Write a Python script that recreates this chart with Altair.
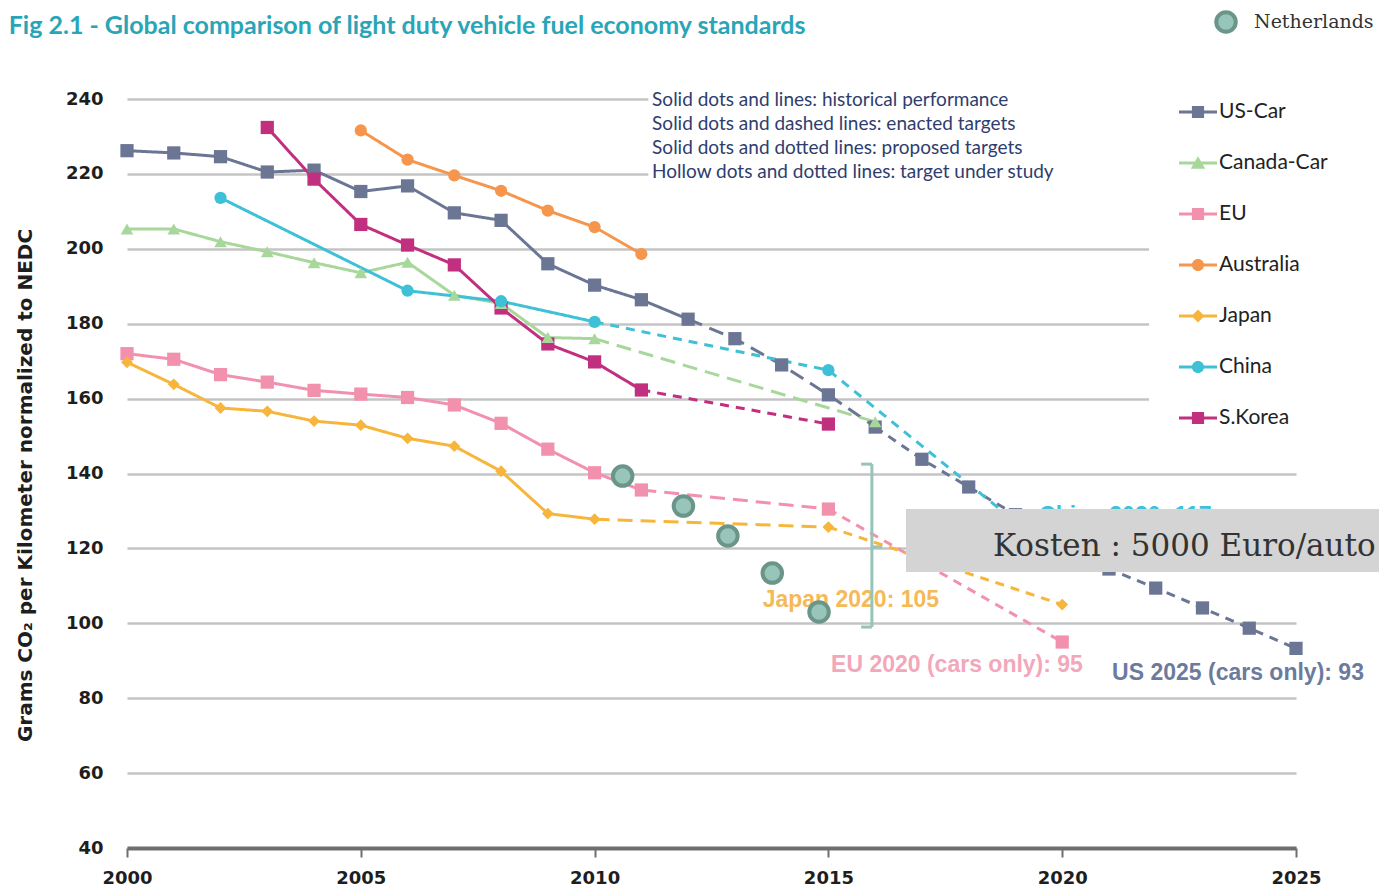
import altair as alt
import pandas as pd

# ---------------- data ----------------
SERIES = ["US-Car", "Canada-Car", "EU", "Australia", "Japan", "China", "S.Korea"]
COLORS = ["#6b7594", "#a8d79b", "#f291ae", "#f5964c", "#f7b53c", "#3ec0d6", "#c1307f"]

us_hist_years = list(range(2000, 2013))
us_hist_vals = [226.2, 225.6, 224.6, 220.5, 221.0, 215.3, 216.8, 209.6, 207.6, 196.0, 190.3, 186.4, 181.2]
us_enacted_years = [2012, 2013, 2014, 2015, 2016]
us_enacted_vals = [181.2, 176.0, 169.0, 161.0, 152.4]
us_proposed_years = list(range(2016, 2026))
us_proposed_vals = [152.4, 143.8, 136.4, 129.0, 121.5, 114.5, 109.4, 104.1, 98.7, 93.3]

canada_hist_years = list(range(2000, 2011))
canada_hist_vals = [205.3, 205.3, 201.9, 199.2, 196.3, 193.6, 196.4, 187.6, 185.4, 176.3, 176.0]
canada_enacted_years = [2010, 2016]
canada_enacted_vals = [176.0, 153.8]

eu_hist_years = list(range(2000, 2012))
eu_hist_vals = [172.0, 170.5, 166.4, 164.4, 162.2, 161.2, 160.3, 158.3, 153.4, 146.5, 140.2, 135.6]
eu_enacted_years = [2011, 2015]
eu_enacted_vals = [135.6, 130.5]
eu_proposed_years = [2015, 2020]
eu_proposed_vals = [130.5, 95.0]

australia_hist_years = list(range(2005, 2012))
australia_hist_vals = [231.6, 223.8, 219.6, 215.5, 210.2, 205.8, 198.6]

japan_hist_years = list(range(2000, 2011))
japan_hist_vals = [169.7, 163.8, 157.5, 156.6, 154.0, 152.9, 149.4, 147.3, 140.6, 129.3, 127.8]
japan_enacted_years = [2010, 2015]
japan_enacted_vals = [127.8, 125.7]
japan_proposed_years = [2015, 2020]
japan_proposed_vals = [125.7, 105.0]

china_hist_years = [2002, 2006, 2008, 2010]
china_hist_vals = [213.6, 188.8, 186.0, 180.5]
china_proposed_years = [2010, 2015, 2020]
china_proposed_vals = [180.5, 167.6, 117.0]

korea_hist_years = list(range(2003, 2012))
korea_hist_vals = [232.4, 218.6, 206.5, 201.0, 195.7, 184.2, 174.6, 169.8, 162.3]
korea_proposed_years = [2011, 2015]
korea_proposed_vals = [162.3, 153.2]

nl_years = [2010.6, 2011.9, 2012.85, 2013.8, 2014.8]
nl_vals = [139.3, 131.3, 123.3, 113.4, 103.0]

x_ticks = [2000, 2005, 2010, 2015, 2020, 2025]
y_ticks = [40, 60, 80, 100, 120, 140, 160, 180, 200, 220, 240]

segments = [
    ("US-Car", "hist", us_hist_years, us_hist_vals),
    ("US-Car", "enacted", us_enacted_years, us_enacted_vals),
    ("US-Car", "proposed", us_proposed_years, us_proposed_vals),
    ("Canada-Car", "hist", canada_hist_years, canada_hist_vals),
    ("Canada-Car", "enacted", canada_enacted_years, canada_enacted_vals),
    ("EU", "hist", eu_hist_years, eu_hist_vals),
    ("EU", "enacted", eu_enacted_years, eu_enacted_vals),
    ("EU", "proposed", eu_proposed_years, eu_proposed_vals),
    ("Australia", "hist", australia_hist_years, australia_hist_vals),
    ("Japan", "hist", japan_hist_years, japan_hist_vals),
    ("Japan", "enacted", japan_enacted_years, japan_enacted_vals),
    ("Japan", "proposed", japan_proposed_years, japan_proposed_vals),
    ("China", "hist", china_hist_years, china_hist_vals),
    ("China", "proposed", china_proposed_years, china_proposed_vals),
    ("S.Korea", "hist", korea_hist_years, korea_hist_vals),
    ("S.Korea", "proposed", korea_proposed_years, korea_proposed_vals),
]

rows = []
for s, kind, ys, vs in segments:
    for yr, v in zip(ys, vs):
        rows.append({"series": s, "seg": kind, "year": yr, "value": v})
line_df = pd.DataFrame(rows)
point_df = line_df.drop_duplicates(subset=["series", "year"]).reset_index(drop=True)
nl_df = pd.DataFrame({"year": nl_years, "value": nl_vals, "label": "Netherlands"})

# ---------------- scales / axes ----------------
xs = alt.Scale(domain=[2000, 2025], nice=False, zero=False)
ys_ = alt.Scale(domain=[40, 240], nice=False, zero=False)
color_scale = alt.Scale(domain=SERIES, range=COLORS)

x_axis = alt.Axis(values=x_ticks, format="d", grid=False, title=None, labelFlush=False,
                  domainColor="#6e6e6e", domainWidth=4, tickColor="#6e6e6e",
                  tickWidth=2, tickSize=9, labelFont="DejaVu Sans", labelFontSize=18,
                  labelFontWeight="bold", labelColor="#1e1e1e", labelPadding=12)
y_axis = alt.Axis(values=y_ticks, grid=True, gridColor="#c4c4c4", gridWidth=2.5,
                  domain=False, ticks=False, labelFont="DejaVu Sans", labelFontSize=18,
                  labelFontWeight="bold", labelColor="#1e1e1e", labelPadding=24,
                  title="Grams CO\u2082 per Kilometer normalized to NEDC",
                  titleFont="DejaVu Sans", titleFontSize=20, titleFontWeight="bold",
                  titleColor="#1e1e1e", titleAngle=270, titleX=-102, titleY=386,
                  titleAlign="center", titleBaseline="middle")


def X(f="year"):
    return alt.X(f"{f}:Q", scale=xs, axis=x_axis)


def Y(f="value"):
    return alt.Y(f"{f}:Q", scale=ys_, axis=y_axis)


# legend symbol paths: line + marker
bar = "M-1,-0.08L1,-0.08L1,0.08L-1,0.08Z"
sym_paths = {
    "square": bar + "M-0.32,-0.32L0.32,-0.32L0.32,0.32L-0.32,0.32Z",
    "triangle-up": bar + "M0,-0.36L0.38,0.3L-0.38,0.3Z",
    "circle": bar + "M-0.32,0A0.32,0.32,0,1,1,0.32,0A0.32,0.32,0,1,1,-0.32,0Z",
    "diamond": bar + "M0,-0.34L0.34,0L0,0.34L-0.34,0Z",
}
MARKERS = ["square", "triangle-up", "square", "circle", "diamond", "circle", "square"]
legend_shapes = [sym_paths[m] for m in MARKERS]

series_legend = alt.Legend(title=None, orient="none", legendX=1022, legendY=-36,
                           padding=30, fillColor="white", symbolSize=1444,
                           symbolStrokeWidth=0, symbolOpacity=1,
                           labelFont="Lato", labelFontSize=21, labelColor="#222222",
                           labelOffset=2, rowPadding=22)

legend_layer = alt.Chart(point_df).transform_filter("datum.year < 0").mark_point(
    filled=True, opacity=1).encode(
    x=X(), y=Y(),
    color=alt.Color("series:N", scale=color_scale, legend=series_legend),
    shape=alt.Shape("series:N", scale=alt.Scale(domain=SERIES, range=legend_shapes),
                    legend=series_legend),
)

# white background behind the style notes
note_bg = alt.Chart(pd.DataFrame([{"x": 2011.15, "x2": 2025.0, "y": 217.5, "y2": 242.0}])).mark_rect(
    color="white").encode(x=X("x"), x2="x2", y=Y("y"), y2="y2")

lines = alt.Chart(line_df).mark_line(strokeWidth=3).encode(
    x=X(), y=Y(),
    color=alt.Color("series:N", scale=color_scale, legend=None),
    strokeDash=alt.StrokeDash("seg:N", scale=alt.Scale(
        domain=["hist", "enacted", "proposed"], range=[[1, 0], [15, 8], [9, 7]]), legend=None),
    order=alt.Order("year:Q"),
)

point_layers = []
for shp, size in [("square", 175), ("triangle-up", 160), ("circle", 150), ("diamond", 140)]:
    members = [s for s, m in zip(SERIES, MARKERS) if m == shp]
    point_layers.append(
        alt.Chart(point_df).transform_filter(
            alt.FieldOneOfPredicate(field="series", oneOf=members)).mark_point(
            shape=shp, filled=True, opacity=1, size=size).encode(
            x=X(), y=Y(), color=alt.Color("series:N", scale=color_scale, legend=None))
    )

nl_layer = alt.Chart(nl_df).mark_point(shape="circle", size=380, stroke="#6b9588",
                                       strokeWidth=4, opacity=1).encode(
    x=X(), y=Y(),
    fill=alt.Fill("label:N", scale=alt.Scale(domain=["Netherlands"], range=["#98c5b9"]),
                  legend=alt.Legend(title=None, orient="none", legendX=1087, legendY=-89,
                                    padding=0, symbolSize=380, symbolType="circle",
                                    symbolStrokeColor="#6b9588", symbolStrokeWidth=4,
                                    symbolOpacity=1, labelFont="DejaVu Serif",
                                    labelFontSize=19, labelColor="#333333",
                                    labelOffset=16)),
)

bracket_df = pd.DataFrame([
    {"x": 2015.93, "x2": 2015.93, "y": 99.0, "y2": 142.5},
    {"x": 2015.70, "x2": 2015.93, "y": 142.5, "y2": 142.5},
    {"x": 2015.70, "x2": 2015.93, "y": 99.0, "y2": 99.0},
    {"x": 2015.93, "x2": 2016.15, "y": 120.4, "y2": 120.4},
])
bracket = alt.Chart(bracket_df).mark_rule(color="#97c4b8", strokeWidth=3).encode(
    x=X("x"), x2="x2", y=Y("y"), y2="y2")


def text_layer(text, x, y, color, font, size, weight="normal", align="left", baseline="middle"):
    return alt.Chart(pd.DataFrame([{"x": x, "y": y, "t": text}])).mark_text(
        color=color, font=font, fontSize=size, fontWeight=weight, align=align,
        baseline=baseline).encode(x=X("x"), y=Y("y"), text="t:N")


notes = [
    "Solid dots and lines: historical performance",
    "Solid dots and dashed lines: enacted targets",
    "Solid dots and dotted lines: proposed targets",
    "Hollow dots and dotted lines: target under study",
]
note_layers = [text_layer(t, 2011.23, yv, "#2e3d6e", "Lato", 19)
               for t, yv in zip(notes, [239.7, 233.3, 226.9, 220.5])]

title = text_layer("Fig 2.1 - Global comparison of light duty vehicle fuel economy standards",
                   1997.47, 257.4, "#2aa5b8", "Lato", 25, "bold", "left", "alphabetic")
china_lbl = text_layer("China 2020: 117", 2021.35, 128.6, "#3ec0d6", "Liberation Sans", 23, "bold", "center")
japan_lbl = text_layer("Japan 2020: 105", 2015.48, 106.2, "#f5b958", "Liberation Sans", 23, "bold", "center")
eu_lbl = text_layer("EU 2020 (cars only): 95", 2017.75, 88.9, "#f3a7ba", "Liberation Sans", 23, "bold", "center")
us_lbl = text_layer("US 2025 (cars only): 93", 2023.76, 86.7, "#6b7b9e", "Liberation Sans", 23, "bold", "center")

gray_box = alt.Chart(pd.DataFrame([{"x": 2016.66, "x2": 2028.0, "y": 113.7, "y2": 130.5}])).mark_rect(
    color="#d4d4d4").encode(x=X("x"), x2="x2", y=Y("y"), y2="y2")
kosten = text_layer("Kosten : 5000 Euro/auto", 2018.52, 118.0, "#333333", "DejaVu Serif", 31,
                    "normal", "left", "alphabetic")

chart = alt.layer(
    legend_layer, note_bg, lines, *point_layers, japan_lbl, eu_lbl, us_lbl, china_lbl,
    nl_layer, bracket, gray_box, kosten, *note_layers, title,
).properties(
    width=1169, height=749,
    autosize=alt.AutoSizeParams(type="none"),
    padding={"left": 119, "top": 91, "right": 83, "bottom": 39},
    background="white",
).configure_view(stroke=None)

chart.save("out.html", embed_options={"renderer": "svg", "actions": False})
